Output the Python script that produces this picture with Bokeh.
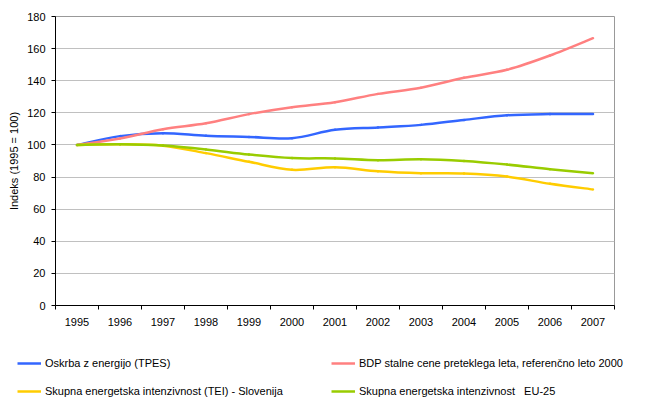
from bokeh.plotting import figure
from bokeh.layouts import column
from bokeh.models import Range1d, FixedTicker, Legend, LegendItem
from bokeh.embed import file_html
from bokeh.resources import INLINE

years = ["1995", "1996", "1997", "1998", "1999", "2000", "2001",
         "2002", "2003", "2004", "2005", "2006", "2007"]
tpes = [100, 105.5, 107.3, 105.7, 105.0, 104.2, 109.4, 110.9, 112.5, 115.6, 118.5, 119.2, 119.2]
bdp = [100, 104.0, 109.8, 113.5, 119.2, 123.5, 126.6, 131.8, 135.6, 141.8, 146.8, 155.7, 166.5]
tei_si = [100, 100.4, 99.5, 94.9, 89.5, 84.5, 86.1, 83.6, 82.4, 82.2, 80.3, 75.8, 72.3]
tei_eu = [100, 100.4, 99.6, 97.2, 94.0, 91.8, 91.6, 90.5, 91.1, 90.0, 87.8, 84.9, 82.4]
y_ticks = list(range(0, 181, 20))

labels = ["Oskrba z energijo (TPES)",
          "BDP stalne cene preteklega leta, referenčno leto 2000",
          "Skupna energetska intenzivnost (TEI) - Slovenija",
          "Skupna energetska intenzivnost\u00a0\u00a0\u00a0EU-25"]
colors = ["#3366FF", "#FF8080", "#FFCC00", "#99CC00"]

FONT = "Liberation Sans"
n = len(years)
centers = [i + 0.5 for i in range(n)]
bounds = [float(i) for i in range(n + 1)]

p = figure(width=645, height=330, frame_width=559, frame_height=289,
           output_backend="svg", toolbar_location=None,
           x_range=Range1d(0, n), y_range=Range1d(0, 180),
           min_border_left=55, min_border_right=31, min_border_top=16,
           min_border_bottom=25, background_fill_color="white",
           border_fill_color="white")
p.frame_align = False
p.outline_line_color = "#999999"


def bezier_segments(xs, ys):
    xs = list(xs); ys = list(ys)
    xp = [xs[0]] + xs + [xs[-1]]
    yp = [ys[0]] + ys + [ys[-1]]
    d = dict(x0=[], y0=[], x1=[], y1=[], cx0=[], cy0=[], cx1=[], cy1=[])
    for i in range(len(xs) - 1):
        k = i + 1
        d["x0"].append(xp[k]); d["y0"].append(yp[k])
        d["x1"].append(xp[k + 1]); d["y1"].append(yp[k + 1])
        d["cx0"].append(xp[k] + (xp[k + 1] - xp[k - 1]) / 6)
        d["cy0"].append(yp[k] + (yp[k + 1] - yp[k - 1]) / 6)
        d["cx1"].append(xp[k + 1] - (xp[k + 2] - xp[k]) / 6)
        d["cy1"].append(yp[k + 1] - (yp[k + 2] - yp[k]) / 6)
    return d


for series, color in zip([tpes, bdp, tei_si, tei_eu], colors):
    d = bezier_segments(centers, series)
    p.bezier(x0=d["x0"], y0=d["y0"], x1=d["x1"], y1=d["y1"],
             cx0=d["cx0"], cy0=d["cy0"], cx1=d["cx1"], cy1=d["cy1"],
             line_color=color, line_width=2.5, line_cap="round")

# axes
p.xgrid.visible = False
p.yaxis.ticker = FixedTicker(ticks=y_ticks)
p.ygrid.grid_line_color = "#C0C0C0"
p.ygrid.grid_line_width = 1
p.yaxis.axis_line_color = "black"
p.yaxis.major_tick_out = 4
p.yaxis.major_tick_in = 0
p.yaxis.minor_tick_line_color = None
p.yaxis.major_label_standoff = 6
p.yaxis.axis_label = "Indeks (1995 = 100)"
p.yaxis.axis_label_text_font = FONT
p.yaxis.axis_label_text_font_size = "11px"
p.yaxis.axis_label_text_font_style = "normal"
p.yaxis.axis_label_text_color = "black"
p.yaxis.axis_label_standoff = 4
p.yaxis.major_label_text_font = FONT
p.yaxis.major_label_text_font_size = "11px"
p.yaxis.major_label_text_color = "black"

p.xaxis.ticker = FixedTicker(ticks=centers, minor_ticks=bounds)
p.xaxis.major_label_overrides = {c: y for c, y in zip(centers, years)}
p.xaxis.major_tick_line_color = None
p.xaxis.major_tick_out = 0
p.xaxis.major_tick_in = 0
p.xaxis.minor_tick_line_color = "black"
p.xaxis.minor_tick_out = 4
p.xaxis.minor_tick_in = 0
p.xaxis.axis_line_color = "black"
p.xaxis.major_label_standoff = 8
p.xaxis.major_label_text_font = FONT
p.xaxis.major_label_text_font_size = "11px"
p.xaxis.major_label_text_color = "black"

# legend strip below the chart
q = figure(width=645, height=87, output_backend="svg", toolbar_location=None,
           x_range=Range1d(0, 645), y_range=Range1d(0, 87),
           min_border=0, background_fill_color="white", border_fill_color="white")
q.frame_align = False
q.axis.visible = False
q.grid.visible = False
q.outline_line_color = None
nan = float("nan")
samples = [q.line(x=[nan], y=[nan], line_color=c, line_width=2.5) for c in colors]


def make_legend(items, loc):
    return Legend(items=items, location=loc, orientation="vertical",
                  padding=0, margin=0, spacing=14, glyph_width=24, glyph_height=14,
                  label_height=14, label_standoff=4, border_line_alpha=0,
                  background_fill_alpha=0, label_text_font=FONT,
                  label_text_font_size="11px", label_text_color="black")


leg1 = make_legend([LegendItem(label=labels[0], renderers=[samples[0]]),
                    LegendItem(label=labels[2], renderers=[samples[2]])], (17, 19))
leg2 = make_legend([LegendItem(label=labels[1], renderers=[samples[1]]),
                    LegendItem(label=labels[3], renderers=[samples[3]])], (331, 19))
q.add_layout(leg1, "center")
q.add_layout(leg2, "center")

layout = column(p, q, spacing=0)
open("out.html", "w").write(file_html(layout, INLINE))
